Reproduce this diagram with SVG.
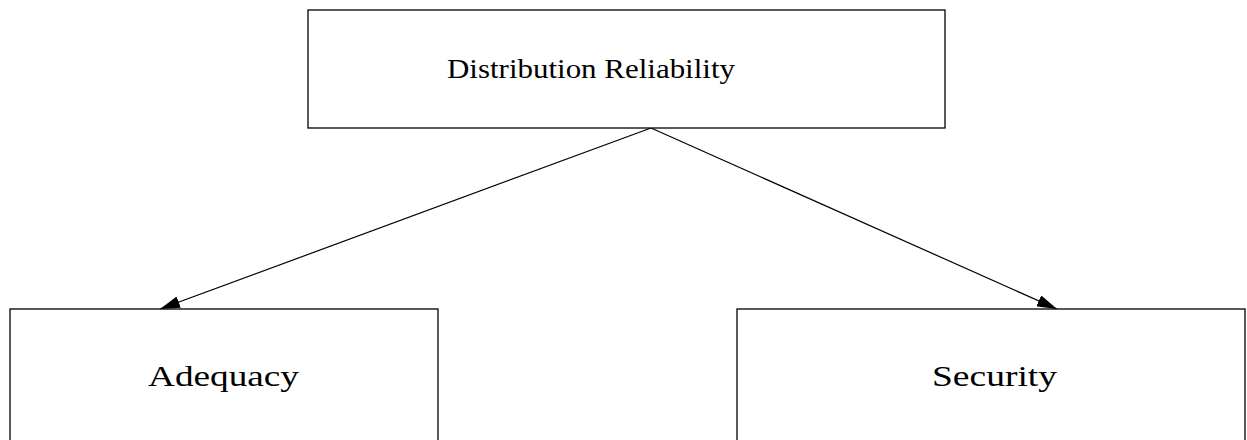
<svg xmlns="http://www.w3.org/2000/svg" width="1247" height="440" viewBox="0 0 1247 440">
<style>
.box{fill:#fff;stroke:#000;stroke-width:1.3}
.lbl{font-family:"Liberation Serif","Times New Roman",serif;fill:#000}
.edge{stroke:#000;stroke-width:1.2;fill:none}
</style>
<defs>
<marker id="ah" markerWidth="20" markerHeight="12" refX="20" refY="6" orient="auto" markerUnits="userSpaceOnUse">
<path d="M0,0 L20,6 L0,12 Z" fill="#000"/>
</marker>
</defs>
<rect width="1247" height="440" fill="#fff"/>
<g id="connectors">
<line class="edge" x1="651" y1="128" x2="160" y2="309" marker-end="url(#ah)"/>
<line class="edge" x1="651" y1="128" x2="1057" y2="309" marker-end="url(#ah)"/>
</g>
<g id="n-distribution">
<rect class="box" x="308" y="10" width="637" height="118"/>
<text class="lbl" x="447" y="78" font-size="27" textLength="288" lengthAdjust="spacingAndGlyphs">Distribution Reliability</text>
</g>
<g id="n-adequacy">
<rect class="box" x="10" y="309" width="428" height="140"/>
<text class="lbl" x="148" y="386" font-size="30" textLength="151" lengthAdjust="spacingAndGlyphs">Adequacy</text>
</g>
<g id="n-security">
<rect class="box" x="737" y="309" width="508" height="140"/>
<text class="lbl" x="932" y="386" font-size="30" textLength="125" lengthAdjust="spacingAndGlyphs">Security</text>
</g>
</svg>
